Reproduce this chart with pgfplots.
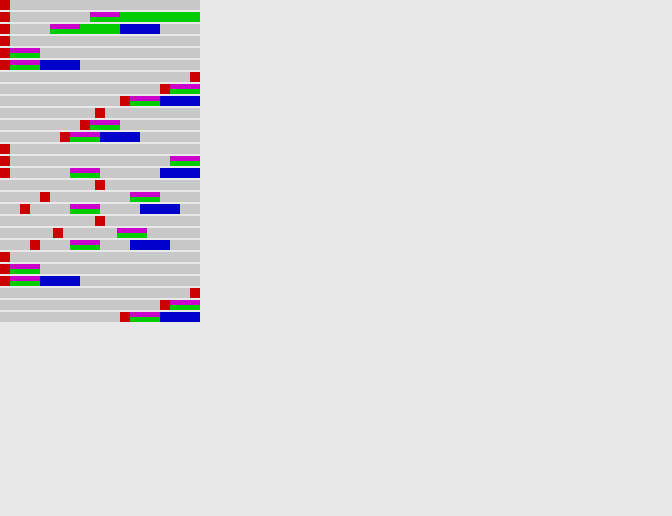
\documentclass[border=0pt]{standalone}
\usepackage{pgfplots}
\usepackage{pgfplotstable}
\pgfplotsset{compat=1.18}
\definecolor{bgc}{RGB}{232,232,232}
\definecolor{rowc}{RGB}{200,200,200}
\definecolor{redc}{RGB}{204,0,0}
\definecolor{magc}{RGB}{204,0,204}
\definecolor{grnc}{RGB}{0,204,0}
\definecolor{bluc}{RGB}{0,0,204}
% rows: x = left edge (px), w = width (px), row = row index
\pgfplotstableread{
x w row
0 200 0
0 200 1
0 200 2
0 200 3
0 200 4
0 200 5
0 200 6
0 200 7
0 200 8
0 200 9
0 200 10
0 200 11
0 200 12
0 200 13
0 200 14
0 200 15
0 200 16
0 200 17
0 200 18
0 200 19
0 200 20
0 200 21
0 200 22
0 200 23
0 200 24
0 200 25
0 200 26
}\rowtab
\pgfplotstableread{
x w row
0 10 0
0 10 1
0 10 2
0 10 3
0 10 4
0 10 5
190 10 6
160 10 7
120 10 8
95 10 9
80 10 10
60 10 11
0 10 12
0 10 13
0 10 14
95 10 15
40 10 16
20 10 17
95 10 18
53 10 19
30 10 20
0 10 21
0 10 22
0 10 23
190 10 24
160 10 25
120 10 26
}\redtab
\pgfplotstableread{
x w row
90 30 1
50 30 2
10 30 4
10 30 5
170 30 7
130 30 8
90 30 10
70 30 11
170 30 13
70 30 14
130 30 16
70 30 17
117 30 19
70 30 20
10 30 22
10 30 23
170 30 25
130 30 26
}\splittab
\pgfplotstableread{
x w row
120 80 1
80 40 2
}\greentab
\pgfplotstableread{
x w row
120 40 2
40 40 5
160 40 8
100 40 11
160 40 14
140 40 17
130 40 20
40 40 23
160 40 26
}\bluetab
\begin{document}
\begin{tikzpicture}
\begin{axis}[
  scale only axis, width=672bp, height=516bp,
  xmin=0, xmax=672, ymin=0, ymax=516, y dir=reverse,
  axis line style={draw=none}, xtick=\empty, ytick=\empty,
  axis background/.style={fill=bgc},
]
\addplot[draw=rowc, line width=10bp, quiver={u=\thisrow{w}, v=0}]
  table[x=x, y expr=12*\thisrow{row}+5] {\rowtab};
\addplot[draw=grnc, line width=10bp, quiver={u=\thisrow{w}, v=0}]
  table[x=x, y expr=12*\thisrow{row}+5] {\greentab};
\addplot[draw=bluc, line width=10bp, quiver={u=\thisrow{w}, v=0}]
  table[x=x, y expr=12*\thisrow{row}+5] {\bluetab};
\addplot[draw=magc, line width=5bp, quiver={u=\thisrow{w}, v=0}]
  table[x=x, y expr=12*\thisrow{row}+2.5] {\splittab};
\addplot[draw=grnc, line width=5bp, quiver={u=\thisrow{w}, v=0}]
  table[x=x, y expr=12*\thisrow{row}+7.5] {\splittab};
\addplot[draw=redc, line width=10bp, quiver={u=\thisrow{w}, v=0}]
  table[x=x, y expr=12*\thisrow{row}+5] {\redtab};
\end{axis}
\end{tikzpicture}
\end{document}
